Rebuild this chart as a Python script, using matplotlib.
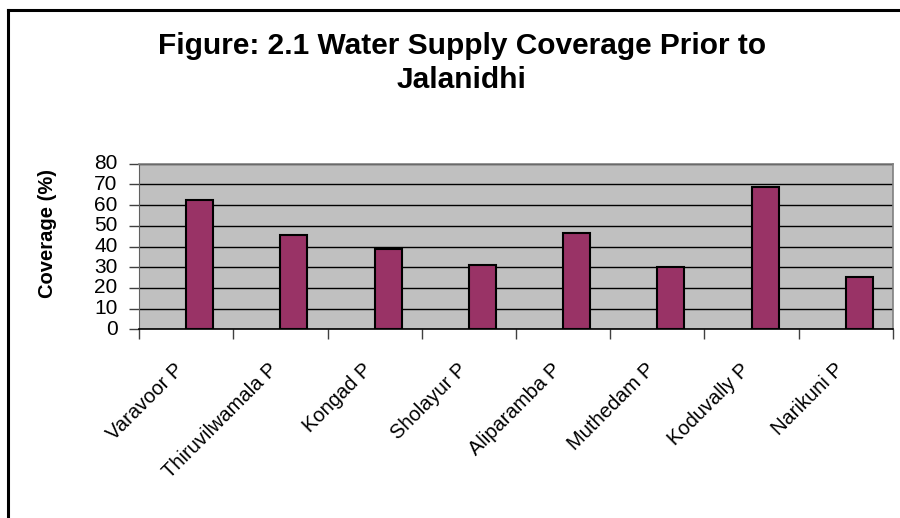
import matplotlib.pyplot as plt
import numpy as np
from matplotlib.lines import Line2D
from matplotlib.transforms import ScaledTranslation

# data
places = ["Varavoor P", "Thiruvilwamala P", "Kongad P", "Sholayur P",
          "Aliparamba P", "Muthedam P", "Koduvally P", "Narikuni P"]
coverage = [62.6, 45.4, 39.0, 30.9, 46.4, 30.0, 68.9, 25.4]
y_ticks = [0, 10, 20, 30, 40, 50, 60, 70, 80]

plt.rcParams['font.family'] = ['Liberation Sans', 'DejaVu Sans']

fig = plt.figure(figsize=(9, 5.18), dpi=100)
ax = fig.add_axes([139 / 900, 1 - 329.3 / 518, (893 - 139) / 900, (329.3 - 163.7) / 518])

ax.set_facecolor('#C0C0C0')
x = np.arange(len(places))
# excel-style clustered bar: the bar starts at the slot centre
ax.bar(x, coverage, width=1 / 3.5, align='edge', color='#993366',
       edgecolor='black', linewidth=1.5, zorder=3)

ax.set_xlim(-0.5, len(places) - 0.5)
ax.set_ylim(0, 80)
ax.set_yticks(y_ticks)
ax.yaxis.grid(True, color='black', linewidth=1, zorder=1)
ax.set_axisbelow(True)

ax.set_xticks(x)
ax.set_xticklabels(places, rotation=45, ha='right', rotation_mode='anchor', fontsize=14.5)
ax.set_xticks(np.arange(len(places) + 1) - 0.5, minor=True)
ax.tick_params(axis='x', which='major', length=0, pad=12)
ax.tick_params(axis='x', which='minor', length=7, width=1, color='#404040')
ax.tick_params(axis='y', length=7, width=1, color='#404040', labelsize=15, pad=8.5)
shift = ScaledTranslation(-12 / 100, -14 / 100, fig.dpi_scale_trans)
for lab in ax.get_xticklabels():
    lab.set_transform(lab.get_transform() + shift)
for lab in ax.get_yticklabels():
    lab.set_verticalalignment('center')

for s in ['top', 'right']:
    ax.spines[s].set_color('#808080')
    ax.spines[s].set_linewidth(1.2)
ax.spines['left'].set_color('#606060')
ax.spines['bottom'].set_color('black')
ax.spines['bottom'].set_linewidth(1.2)

ax.set_ylabel('Coverage (%)', fontsize=14.5, fontweight='bold')
ax.yaxis.label.set_verticalalignment('center')
ax.yaxis.set_label_coords((47 - 139) / 754, (329.3 - 233) / 165.6)

fig.text(462 / 900, 1 - 63 / 518, 'Figure: 2.1 Water Supply Coverage Prior to\nJalanidhi',
         ha='center', va='center', fontsize=21.5, fontweight='bold', linespacing=1.25)

# chart border (cut off at the right and bottom in the reference)
fig.add_artist(Line2D([7.5 / 900, 7.5 / 900], [0, 1 - 9.5 / 518], transform=fig.transFigure,
                      color='black', linewidth=2.2))
fig.add_artist(Line2D([7.5 / 900, 1], [1 - 9.5 / 518, 1 - 9.5 / 518], transform=fig.transFigure,
                      color='black', linewidth=2.2))

fig.savefig('out.png', dpi=100)
